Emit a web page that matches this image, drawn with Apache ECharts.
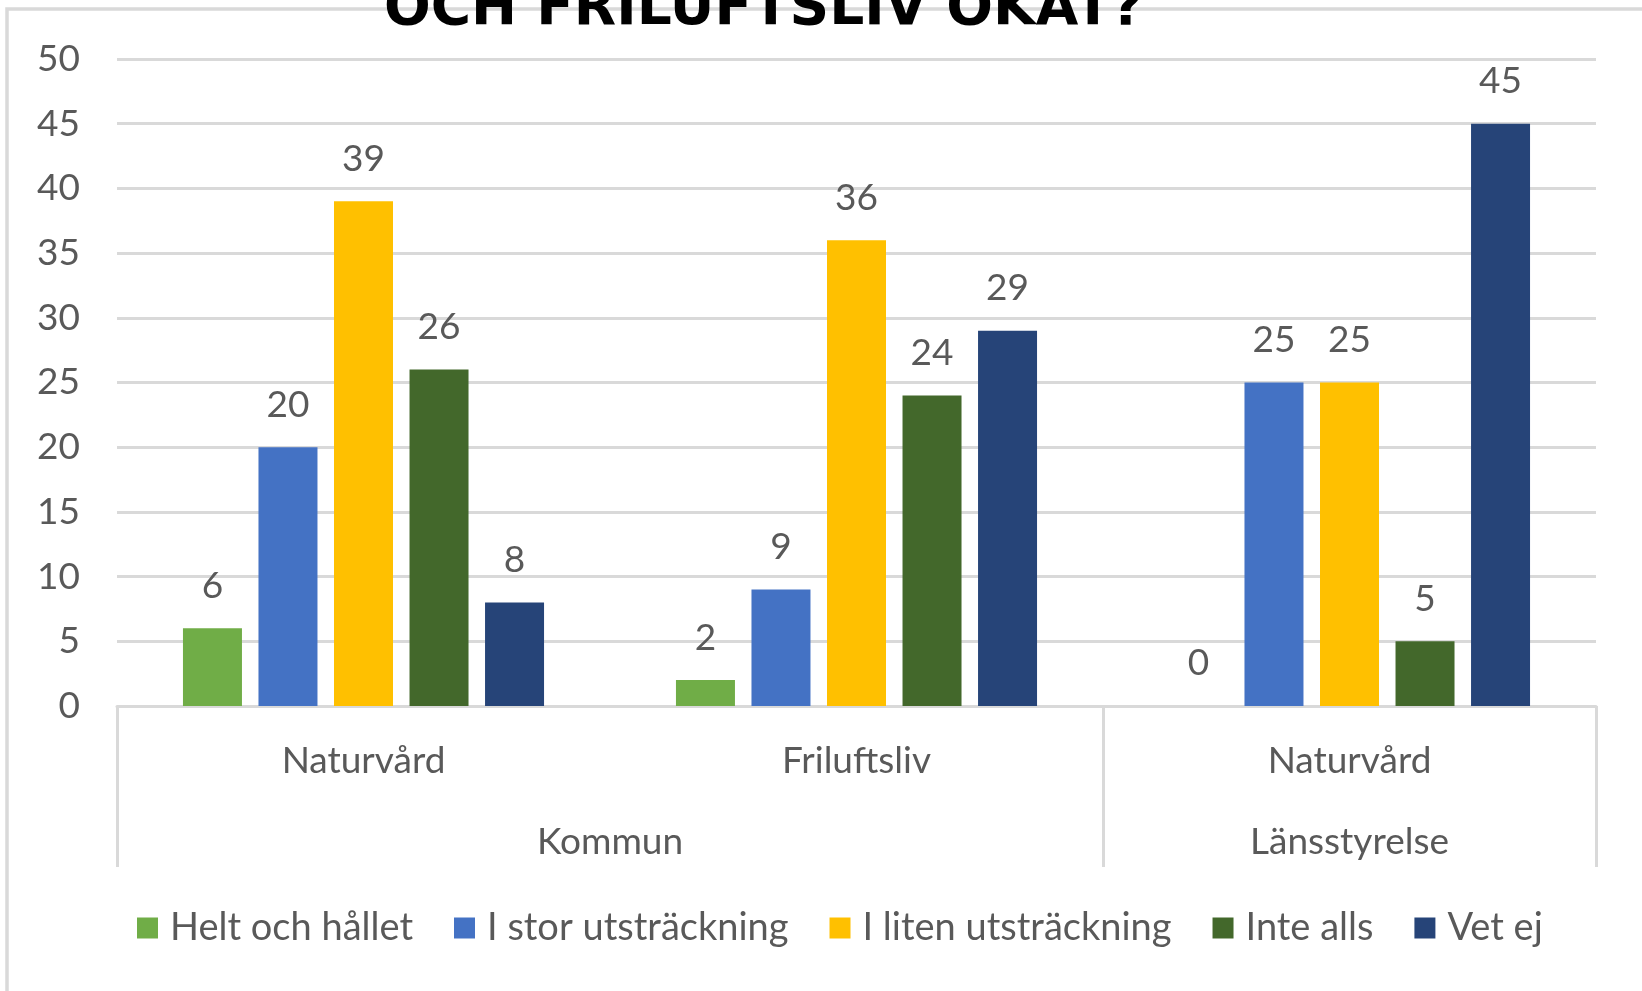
<!DOCTYPE html>
<html>
<head>
<meta charset="utf-8">
<title>Naturvård och friluftsliv</title>
<script src="https://cdn.jsdelivr.net/npm/echarts@6/dist/echarts.min.js"></script>
<style>
  html, body { margin: 0; padding: 0; background: #fff; }
  #main { width: 1642px; height: 991px; }
</style>
</head>
<body>
<div id="main"></div>
<script>
// kategorier (inre nivå) och grupper (yttre nivå)
const categories = ['Naturvård', 'Friluftsliv', 'Naturvård'];
const groupLabels = ['Kommun', 'Länsstyrelse'];
const groupSizes = [2, 1];

const seriesNames = ['Helt och hållet', 'I stor utsträckning', 'I liten utsträckning', 'Inte alls', 'Vet ej'];
const heltOchHallet = [6, 2, 0];
const iStorUtstrackning = [20, 9, 25];
const iLitenUtstrackning = [39, 36, 25];
const inteAlls = [26, 24, 5];
const vetEj = [8, 29, 45];

const yTicks = [0, 5, 10, 15, 20, 25, 30, 35, 40, 45, 50];

const colors = ['#70AD47', '#4472C4', '#FFC000', '#43682B', '#264478'];
const values = [heltOchHallet, iStorUtstrackning, iLitenUtstrackning, inteAlls, vetEj];

const font = 'Lato';
const textColor = '#595959';
const lineColor = '#D9D9D9';

// gränser och mittpunkter för grupperna
const groupEdges = [0];
const groupCenters = [];
groupSizes.forEach((n, i) => {
    const start = groupEdges[i];
    groupEdges.push(start + n);
    groupCenters.push(start + n / 2);
});

const chart = echarts.init(document.getElementById('main'));

const option = {
    animation: false,
    backgroundColor: '#fff',
    color: colors,
    title: {
        text: 'OCH FRILUFTSLIV ÖKAT?',
        left: 384,
        top: -18,
        padding: 0,
        textStyle: {
            fontFamily: 'DejaVu Sans',
            fontWeight: 'bold',
            fontSize: 55,
            lineHeight: 55,
            color: '#000'
        }
    },
    graphic: [{
        type: 'rect',
        z: -1,
        shape: { x: 7, y: 9, width: 1700, height: 1100 },
        style: { fill: 'none', stroke: lineColor, lineWidth: 3.5 }
    }],
    grid: {
        left: 117,
        right: 46,
        top: 59,
        bottom: 285
    },
    legend: {
        data: seriesNames,
        left: 132,
        top: 904,
        icon: 'rect',
        itemWidth: 21,
        itemHeight: 21,
        itemGap: 41,
        textStyle: {
            fontFamily: font,
            fontSize: 38,
            color: textColor,
            padding: [0, 0, 0, 7]
        }
    },
    xAxis: [
        {
            type: 'category',
            data: categories,
            axisLine: { lineStyle: { color: lineColor, width: 3 } },
            axisTick: { show: false },
            axisLabel: {
                margin: 37,
                fontFamily: font,
                fontSize: 37,
                color: textColor
            }
        },
        {
            type: 'value',
            position: 'bottom',
            min: 0,
            max: categories.length,
            axisLine: { show: false },
            splitLine: { show: false },
            axisTick: {
                show: true,
                customValues: groupEdges,
                length: 161,
                lineStyle: { color: lineColor, width: 3 }
            },
            axisLabel: {
                customValues: groupCenters,
                margin: 118,
                fontFamily: font,
                fontSize: 37,
                color: textColor,
                formatter: v => groupLabels[groupCenters.indexOf(v)] || ''
            }
        }
    ],
    yAxis: {
        type: 'value',
        min: yTicks[0],
        max: yTicks[yTicks.length - 1],
        interval: yTicks[1] - yTicks[0],
        axisLine: { show: false },
        axisTick: { show: false },
        splitLine: { lineStyle: { color: lineColor, width: 3 } },
        axisLabel: {
            margin: 37,
            fontFamily: font,
            fontSize: 37,
            color: textColor
        }
    },
    series: seriesNames.map((name, i) => ({
        name: name,
        type: 'bar',
        xAxisIndex: 0,
        data: values[i],
        barWidth: 59,
        barGap: '28%',
        itemStyle: { color: colors[i] },
        label: {
            show: true,
            position: 'top',
            distance: 24,
            fontFamily: font,
            fontSize: 37,
            color: textColor
        }
    }))
};

chart.setOption(option);
</script>
</body>
</html>
